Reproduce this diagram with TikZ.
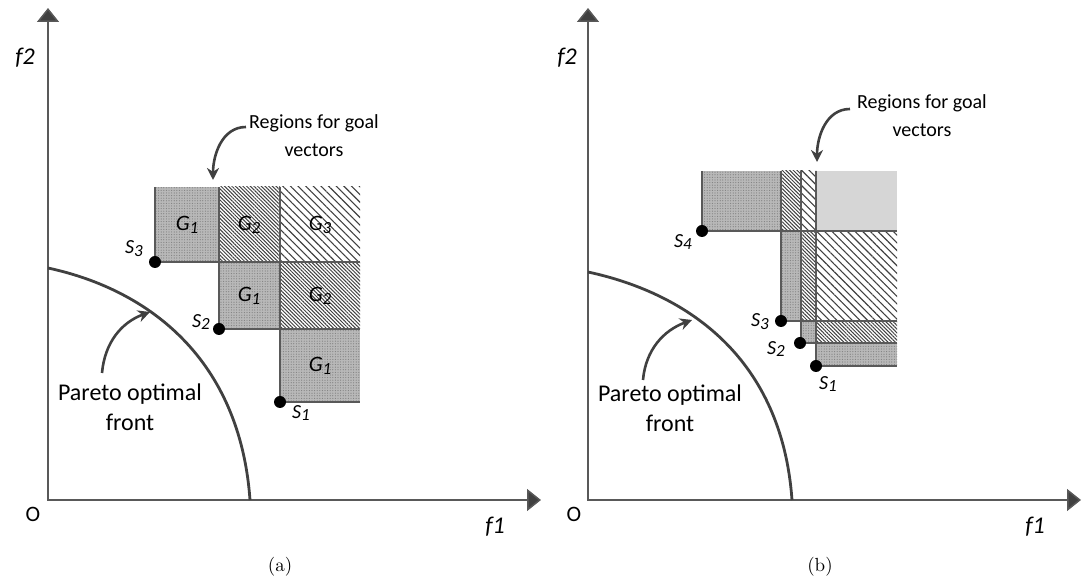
\documentclass[tikz,border=0pt]{standalone}
\usepackage{fontspec}
\newfontfamily\carlito{Carlito}
\usetikzlibrary{arrows.meta,patterns.meta}

\newcommand{\sname}[2]{{\itshape #1\raisebox{-.3ex}{\fontsize{8.5}{8.5}\selectfont #2}}}

\tikzset{
  axisline/.style={draw=black!65, line width=.75pt, arrows={Triangle[width=11pt,length=7pt,fill=black!75]-Triangle[width=11pt,length=7pt,fill=black!75]}},
  frontline/.style={draw=black!75, line width=1.4pt},
  bentarrow/.style={draw=black!75, line width=1.3pt, -{Stealth[length=6pt,width=6pt]}},
  gridline/.style={draw=black!65, line width=.9pt},
  dotbox/.style={fill=black!28, postaction={pattern={Dots[distance=1.3pt,radius=.3pt]}, pattern color=black!50}},
  densebox/.style={pattern={Lines[angle=-45,distance=1.3pt,line width=.5pt]}, pattern color=black!75},
  sparsebox/.style={pattern={Lines[angle=-45,distance=2.7pt,line width=.55pt]}, pattern color=black!75},
  lightbox/.style={fill=black!16},
  spoint/.style={circle, fill=black, inner sep=0pt, minimum size=6pt},
  slabel/.style={font=\carlito\fontsize{10}{12}\selectfont, inner sep=1pt},
  glabel/.style={font=\carlito\fontsize{11}{13}\selectfont},
  axislabel/.style={font=\carlito\itshape\fontsize{12}{14}\selectfont},
  note/.style={align=center, font=\carlito\fontsize{10}{14}\selectfont},
  bignote/.style={align=center, font=\carlito\fontsize{12}{15}\selectfont},
  caption/.style={font=\fontsize{9.5}{11}\selectfont}
}

\begin{document}
\begin{tikzpicture}[x=0.5pt, y=0.5pt]
  \useasboundingbox (0,0) rectangle (1087,583);

  % (a)
  \coordinate (oa) at (48,83);
  \coordinate (f2a) at (48,575);
  \coordinate (f1a) at (541,83);
  \draw[axisline] (f2a) -- (oa) -- (f1a);
  \node[axislabel] (f2la) at (25,525) {f2};
  \node[axislabel] (f1la) at (495,56) {f1};
  \node[font=\carlito\fontsize{11}{13}\selectfont] (ola) at (33,69) {O};
  \draw[frontline] (48,315) .. controls (150,293) and (240,223) .. (250,83);

  \fill[dotbox] (155,321) rectangle (219,396);
  \fill[densebox] (219,321) rectangle (280,396);
  \fill[sparsebox] (280,321) rectangle (360,396);
  \fill[dotbox] (219,254) rectangle (280,321);
  \fill[densebox] (280,254) rectangle (360,321);
  \fill[dotbox] (280,181) rectangle (360,254);
  \draw[gridline] (155,396) -- (155,321) -- (360,321);
  \draw[gridline] (219,396) -- (219,254) -- (360,254);
  \draw[gridline] (280,396) -- (280,181) -- (360,181);

  \node[glabel] (g1a) at (187,358) {\sname{G}{1}};
  \node[glabel] (g2a) at (249,358) {\sname{G}{2}};
  \node[glabel] (g3a) at (320,358) {\sname{G}{3}};
  \node[glabel] (g1b) at (249,287) {\sname{G}{1}};
  \node[glabel] (g2b) at (320,287) {\sname{G}{2}};
  \node[glabel] (g1c) at (320,217) {\sname{G}{1}};

  \node[spoint] (s3a) at (155,321) {};
  \node[spoint] (s2a) at (219,254) {};
  \node[spoint] (s1a) at (280,181) {};
  \node[slabel] (s3la) at (134,334) {\sname{S}{3}};
  \node[slabel] (s2la) at (201,261) {\sname{S}{2}};
  \node[slabel] (s1la) at (301,170) {\sname{S}{1}};

  \node[note] (regA) at (314,447) {Regions for goal\\vectors};
  \coordinate (regAtip) at (213,403);
  \draw[bentarrow] ([shift={(-68,9)}]regA.center) to[out=180,in=90] (regAtip);
  \node[bignote] (parA) at (130,176) {Pareto optimal\\front};
  \coordinate (parAtip) at (150,271);
  \draw[bentarrow] ([shift={(-28,34)}]parA.center) to[out=85,in=200] (parAtip);
  \node[caption] (capA) at (280,16) {(a)};

  % (b)
  \coordinate (ob) at (588,83);
  \coordinate (f2b) at (588,575);
  \coordinate (f1b) at (1081,83);
  \draw[axisline] (f2b) -- (ob) -- (f1b);
  \node[axislabel] (f2lb) at (567,525) {f2};
  \node[axislabel] (f1lb) at (1035,56) {f1};
  \node[font=\carlito\fontsize{11}{13}\selectfont] (olb) at (574,69) {O};
  \draw[frontline] (588,311) .. controls (690,289) and (782,223) .. (792,83);

  \fill[dotbox] (702,352) rectangle (781,412);
  \fill[densebox] (781,352) rectangle (801,412);
  \fill[sparsebox] (801,352) rectangle (816,412);
  \fill[lightbox] (816,352) rectangle (897,412);
  \fill[dotbox] (781,262) rectangle (801,352);
  \fill[densebox] (801,262) rectangle (816,352);
  \fill[sparsebox] (816,262) rectangle (897,352);
  \fill[dotbox] (801,240) rectangle (816,262);
  \fill[densebox] (816,240) rectangle (897,262);
  \fill[dotbox] (816,217) rectangle (897,240);
  \draw[gridline] (702,412) -- (702,352) -- (897,352);
  \draw[gridline] (781,412) -- (781,262) -- (897,262);
  \draw[gridline] (801,412) -- (801,240) -- (897,240);
  \draw[gridline] (816,412) -- (816,217) -- (897,217);

  \node[spoint] (s4b) at (702,352) {};
  \node[spoint] (s3b) at (781,262) {};
  \node[spoint] (s2b) at (800,240) {};
  \node[spoint] (s1b) at (816,217) {};
  \node[slabel] (s4lb) at (683,341) {\sname{S}{4}};
  \node[slabel] (s3lb) at (760,261) {\sname{S}{3}};
  \node[slabel] (s2lb) at (776,234) {\sname{S}{2}};
  \node[slabel] (s1lb) at (828,199) {\sname{S}{1}};

  \node[note] (regB) at (922,467) {Regions for goal\\vectors};
  \coordinate (regBtip) at (817,421);
  \draw[bentarrow] ([shift={(-72,7)}]regB.center) to[out=180,in=90] (regBtip);
  \node[bignote] (parB) at (670,175) {Pareto optimal\\front};
  \coordinate (parBtip) at (692,263);
  \draw[bentarrow] ([shift={(-27,28)}]parB.center) to[out=85,in=200] (parBtip);
  \node[caption] (capB) at (820,16) {(b)};
\end{tikzpicture}
\end{document}
